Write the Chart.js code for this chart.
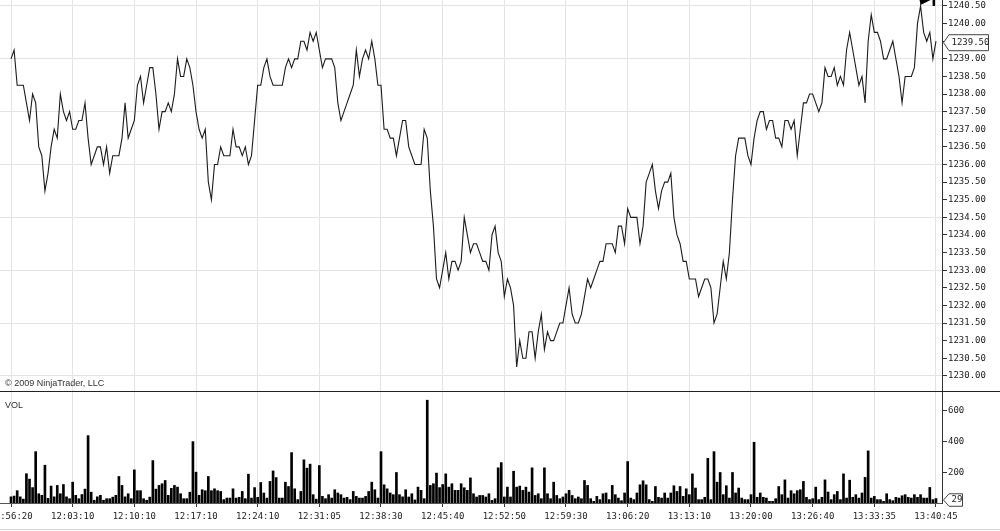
<!DOCTYPE html>
<html lang="en">
  <head>
    <meta charset="UTF-8" />
    <title>ES tick chart with volume</title>
    <script src="https://cdn.jsdelivr.net/npm/chart.js@4.4.1/dist/chart.umd.min.js"></script>
    <style>
      body { margin: 0; background: #fff; }
      #wrap { position: relative; width: 1000px; height: 531px; overflow: hidden; }
      canvas { position: absolute; left: 0; }
      #price { top: 0; }
      #vol { top: 392px; }
    </style>
  </head>
  <body>
    <div id="wrap">
      <canvas id="price" width="1000" height="392"></canvas>
      <canvas id="vol" width="1000" height="139"></canvas>
    </div>
    <script>
      // closing prices, one per bar
      const closes = [
        1239.00, 1239.25, 1238.25, 1238.25, 1238.25, 1237.75, 1237.25, 1238.00, 1237.75, 1236.50,
        1236.25, 1235.25, 1235.75, 1236.50, 1237.00, 1236.75, 1238.00, 1237.50, 1237.25, 1237.50,
        1237.00, 1237.00, 1237.25, 1237.25, 1237.75, 1236.75, 1236.00, 1236.25, 1236.50, 1236.50,
        1236.00, 1236.50, 1235.75, 1236.25, 1236.25, 1236.25, 1236.75, 1237.75, 1236.75, 1237.00,
        1237.25, 1238.25, 1238.50, 1237.75, 1238.25, 1238.75, 1238.75, 1238.00, 1237.00, 1237.50,
        1237.50, 1237.75, 1237.50, 1238.00, 1239.00, 1238.50, 1238.50, 1239.00, 1238.75, 1238.25,
        1237.50, 1237.00, 1236.75, 1237.00, 1235.50, 1235.00, 1236.00, 1236.00, 1236.50, 1236.25,
        1236.25, 1236.25, 1237.00, 1236.50, 1236.50, 1236.25, 1236.50, 1236.00, 1236.25, 1237.25,
        1238.25, 1238.25, 1238.75, 1239.00, 1238.50, 1238.25, 1238.25, 1238.25, 1238.25, 1238.75,
        1239.00, 1238.75, 1239.00, 1239.00, 1239.50, 1239.50, 1239.25, 1239.75, 1239.50, 1239.75,
        1239.25, 1238.75, 1239.00, 1239.00, 1239.00, 1238.75, 1237.75, 1237.25, 1237.50, 1237.75,
        1238.00, 1238.25, 1239.25, 1238.50, 1239.00, 1239.25, 1239.00, 1239.50, 1239.00, 1238.25,
        1238.25, 1237.00, 1237.00, 1236.75, 1236.75, 1236.25, 1236.75, 1237.25, 1237.25, 1236.50,
        1236.25, 1236.00, 1236.00, 1236.00, 1237.00, 1236.75, 1235.25, 1234.25, 1232.75, 1232.50,
        1233.00, 1233.50, 1232.75, 1233.25, 1233.25, 1233.00, 1233.25, 1234.50, 1234.00, 1233.50,
        1233.75, 1233.75, 1233.50, 1233.25, 1233.25, 1233.00, 1234.00, 1234.25, 1233.50, 1233.25,
        1232.25, 1232.75, 1232.50, 1232.00, 1230.25, 1231.00, 1230.50, 1230.50, 1231.25, 1231.25,
        1230.50, 1231.25, 1231.75, 1230.75, 1231.25, 1231.00, 1231.00, 1231.25, 1231.50, 1231.50,
        1232.00, 1232.50, 1231.75, 1231.50, 1231.50, 1231.75, 1232.25, 1232.75, 1232.50, 1232.75,
        1233.00, 1233.25, 1233.25, 1233.75, 1233.75, 1233.75, 1233.50, 1234.25, 1234.25, 1233.75,
        1234.75, 1234.50, 1234.50, 1234.50, 1233.75, 1234.25, 1235.50, 1235.75, 1236.00, 1235.25,
        1234.75, 1235.25, 1235.50, 1235.50, 1235.75, 1234.50, 1234.00, 1233.75, 1233.25, 1233.25,
        1232.75, 1232.75, 1232.75, 1232.25, 1232.50, 1232.75, 1232.75, 1232.50, 1231.50, 1231.75,
        1232.50, 1233.25, 1232.75, 1233.50, 1235.00, 1236.25, 1236.75, 1236.75, 1236.75, 1236.25,
        1236.00, 1236.75, 1237.25, 1237.50, 1237.50, 1237.00, 1237.25, 1237.25, 1236.75, 1236.75,
        1236.50, 1237.25, 1237.25, 1237.00, 1237.25, 1236.25, 1237.00, 1237.75, 1237.75, 1238.00,
        1238.00, 1237.75, 1237.50, 1237.75, 1238.75, 1238.50, 1238.50, 1238.75, 1238.25, 1238.50,
        1238.25, 1239.25, 1239.75, 1239.25, 1238.75, 1238.25, 1238.50, 1237.75, 1239.50, 1240.25,
        1239.75, 1239.75, 1239.50, 1239.00, 1239.00, 1239.25, 1239.50, 1239.00, 1238.50, 1237.75,
        1238.50, 1238.50, 1238.50, 1238.75, 1240.00, 1240.50, 1239.75, 1239.50, 1239.75, 1239.00,
        1239.50
      ];

      // volume per bar
      const volumes = [
        40, 45, 80, 40, 25, 190, 155, 100, 333, 60,
        50, 245, 30, 110, 40, 114, 60, 120, 40, 28,
        135, 50, 28, 55, 90, 437, 70, 18, 40, 50,
        18, 28, 28, 38, 50, 172, 114, 40, 60, 28,
        215, 80, 80, 28, 18, 38, 275, 90, 114, 125,
        146, 50, 95, 114, 103, 60, 28, 28, 70, 398,
        200, 50, 86, 80, 172, 80, 92, 80, 75, 22,
        32, 32, 92, 32, 37, 75, 28, 187, 32, 100,
        37, 133, 65, 32, 140, 208, 165, 32, 32, 135,
        107, 327, 92, 22, 75, 280, 226, 252, 54, 25,
        243, 43, 28, 54, 32, 86, 65, 54, 32, 37,
        22, 75, 43, 32, 32, 43, 75, 135, 86, 32,
        333, 118, 92, 65, 54, 198, 54, 40, 86, 39,
        60, 20, 103, 82, 28, 667, 114, 125, 194, 100,
        120, 189, 103, 125, 82, 82, 125, 99, 82, 163,
        60, 39, 49, 49, 39, 60, 17, 28, 228, 262,
        39, 103, 39, 206, 103, 110, 82, 103, 71, 228,
        49, 60, 28, 228, 60, 28, 135, 49, 28, 39,
        60, 82, 49, 28, 39, 28, 146, 114, 28, 11,
        43, 22, 60, 65, 22, 114, 54, 32, 15, 65,
        269, 32, 22, 65, 118, 144, 118, 22, 11, 107,
        37, 32, 65, 32, 65, 112, 75, 107, 43, 92,
        54, 189, 97, 22, 22, 37, 290, 22, 333, 135,
        198, 54, 112, 32, 198, 65, 97, 32, 22, 22,
        54, 394, 37, 65, 37, 32, 11, 11, 28, 107,
        54, 150, 32, 80, 60, 80, 86, 140, 37, 22,
        28, 103, 22, 37, 150, 71, 22, 54, 75, 22,
        189, 32, 148, 37, 54, 32, 65, 166, 338, 32,
        43, 22, 22, 11, 60, 22, 15, 37, 32, 47,
        54, 37, 32, 54, 37, 54, 32, 32, 101, 22,
        29
      ];

      const timeLabels = [
        "11:56:20", "12:03:10", "12:10:10", "12:17:10", "12:24:10", "12:31:05",
        "12:38:30", "12:45:40", "12:52:50", "12:59:30", "13:06:20", "13:13:10",
        "13:20:00", "13:26:40", "13:33:35", "13:40:45"
      ];
      // bar index each time label sits on
      const timeTicks = [0, 20, 40, 60, 80, 100, 120, 140, 160, 180, 200, 220, 240, 260, 280, 300];

      const priceTicks = [
        1230.0, 1230.5, 1231.0, 1231.5, 1232.0, 1232.5, 1233.0, 1233.5, 1234.0, 1234.5, 1235.0,
        1235.5, 1236.0, 1236.5, 1237.0, 1237.5, 1238.0, 1238.5, 1239.0, 1239.5, 1240.0, 1240.5
      ];
      const volTicks = [200, 400, 600];

      const X_MIN = -3.57;
      const X_MAX = 301.95;
      const MONO = "'DejaVu Sans Mono', monospace";
      const SANS = "'Liberation Sans', Arial, sans-serif";

      Chart.defaults.font.family = MONO;
      Chart.defaults.font.size = 9;
      Chart.defaults.color = "#222";

      // little tag with an arrow pointing at the axis
      function drawTag(ctx, tipX, cy, w, h, text) {
        ctx.beginPath();
        ctx.moveTo(tipX, cy);
        ctx.lineTo(tipX + 5.5, cy - h / 2);
        ctx.lineTo(tipX + w, cy - h / 2);
        ctx.lineTo(tipX + w, cy + h / 2);
        ctx.lineTo(tipX + 5.5, cy + h / 2);
        ctx.closePath();
        ctx.fillStyle = "#fff";
        ctx.fill();
        ctx.strokeStyle = "#444";
        ctx.lineWidth = 1;
        ctx.stroke();
        ctx.fillStyle = "#222";
        ctx.font = "9px " + MONO;
        ctx.textBaseline = "middle";
        ctx.textAlign = "left";
        ctx.fillText(text, tipX + 8, cy - 0.5);
      }

      const priceDecor = {
        id: "priceDecor",
        afterDraw(chart) {
          const { ctx, scales } = chart;
          ctx.save();
          ctx.strokeStyle = "#222";
          ctx.lineWidth = 1;
          ctx.beginPath();
          ctx.moveTo(0, 391.5);
          ctx.lineTo(chart.width, 391.5);
          ctx.stroke();

          ctx.fillStyle = "#333";
          ctx.font = "9px " + SANS;
          ctx.textBaseline = "middle";
          ctx.fillText("\u00a9 2009 NinjaTrader, LLC", 5, 383.5);

          // marker on the session high
          const hi = closes.indexOf(Math.max(...closes));
          const hx = scales.x.getPixelForValue(hi);
          ctx.fillStyle = "#000";
          ctx.beginPath();
          ctx.moveTo(hx - 1, 0);
          ctx.lineTo(hx + 10, 0);
          ctx.lineTo(hx, 5);
          ctx.closePath();
          ctx.fill();
          ctx.fillRect(hx + 12, 0, 2.5, 6);

          const last = closes[closes.length - 1];
          drawTag(ctx, scales.y.left + 1.5, scales.y.getPixelForValue(last) + 1.5, 45, 16, last.toFixed(2));
          ctx.restore();
        },
      };

      const volDecor = {
        id: "volDecor",
        afterDraw(chart) {
          const { ctx, scales } = chart;
          ctx.save();
          ctx.fillStyle = "#333";
          ctx.font = "9px " + SANS;
          ctx.textBaseline = "middle";
          ctx.fillText("VOL", 5, 13.5);

          ctx.strokeStyle = "#d4d4d4";
          ctx.beginPath();
          ctx.moveTo(0, 137.5);
          ctx.lineTo(chart.width, 137.5);
          ctx.stroke();

          const last = volumes[volumes.length - 1];
          drawTag(ctx, scales.y.left + 1.5, scales.y.getPixelForValue(last) + 1.5, 19, 12.5, String(last));
          ctx.restore();
        },
      };

      function xScale(withLabels) {
        return {
          type: "linear",
          min: X_MIN,
          max: X_MAX,
          offset: false,
          afterBuildTicks: (s) => { s.ticks = timeTicks.map((v) => ({ value: v })); },
          afterFit: (s) => {
            s.height = withLabels ? 28 : 1;
            s.paddingLeft = 0;
            s.paddingRight = 0;
          },
          grid: {
            color: "#e3e3e3",
            offset: false,
            drawTicks: withLabels,
            tickLength: 4,
            tickColor: "#333",
          },
          border: { display: withLabels, color: "#555" },
          ticks: {
            display: withLabels,
            autoSkip: false,
            maxRotation: 0,
            minRotation: 0,
            padding: 4,
            callback: (v, i) => timeLabels[i],
          },
        };
      }

      new Chart(document.getElementById("price"), {
        type: "line",
        data: {
          datasets: [
            {
              data: closes.map((c, i) => ({ x: i, y: c })),
              borderColor: "#1c1c1c",
              borderWidth: 1.1,
              pointRadius: 0,
              tension: 0,
            },
          ],
        },
        options: {
          responsive: false,
          animation: false,
          devicePixelRatio: 1,
          events: [],
          layout: { padding: 0 },
          plugins: { legend: { display: false }, tooltip: { enabled: false } },
          scales: {
            x: xScale(false),
            y: {
              position: "right",
              min: 1229.57,
              max: 1240.67,
              afterBuildTicks: (s) => { s.ticks = priceTicks.map((v) => ({ value: v })); },
              afterFit: (s) => { s.width = 58; s.paddingTop = 0; s.paddingBottom = 0; },
              grid: {
                // horizontal lines only every 1.5 points
                color: (c) => (c.tick && Math.abs(((c.tick.value - 1230) / 1.5) % 1) < 1e-6 ? "#e3e3e3" : "rgba(0,0,0,0)"),
                tickLength: 5,
                tickColor: "#333",
              },
              border: { display: true, color: "#333" },
              ticks: { padding: 1, callback: (v) => v.toFixed(2) },
            },
          },
        },
        plugins: [priceDecor],
      });

      new Chart(document.getElementById("vol"), {
        type: "bar",
        data: {
          datasets: [
            {
              data: volumes.map((v, i) => ({ x: i, y: v })),
              backgroundColor: "#000",
              borderWidth: 0,
              barThickness: 2,
            },
          ],
        },
        options: {
          responsive: false,
          animation: false,
          devicePixelRatio: 1,
          events: [],
          layout: { padding: 0 },
          plugins: { legend: { display: false }, tooltip: { enabled: false } },
          scales: {
            x: xScale(true),
            y: {
              position: "right",
              min: 0,
              max: 720,
              afterBuildTicks: (s) => { s.ticks = volTicks.map((v) => ({ value: v })); },
              afterFit: (s) => { s.width = 58; s.paddingTop = 0; s.paddingBottom = 0; },
              grid: { drawOnChartArea: false, tickLength: 5, tickColor: "#333" },
              border: { display: true, color: "#333" },
              ticks: { padding: 1 },
            },
          },
        },
        plugins: [volDecor],
      });
    </script>
  </body>
</html>
